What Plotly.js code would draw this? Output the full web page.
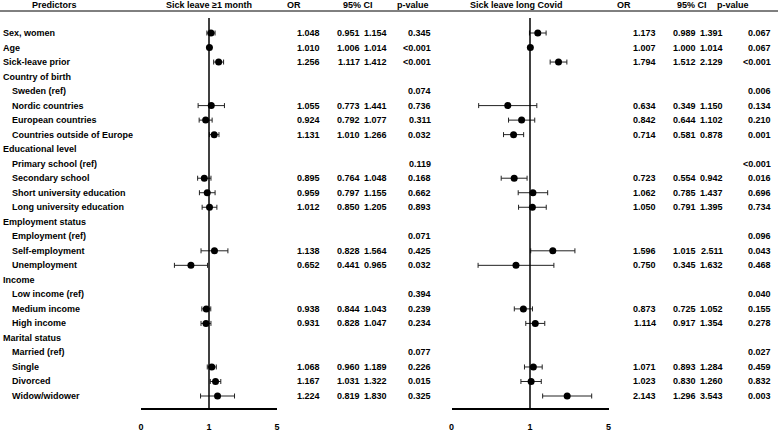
<!DOCTYPE html>
<html>
<head>
<meta charset="utf-8">
<script src="https://cdn.plot.ly/plotly-3.0.1.min.js"></script>
<style>html,body{margin:0;padding:0;background:#fff}#chart{width:778px;height:432px}</style>
</head>
<body>
<div id="chart"></div>
<script>
const labels = ["Sex, women","Age","Sick-leave prior","Country of birth","Sweden (ref)","Nordic countries","European countries","Countries outside of Europe","Educational level","Primary school (ref)","Secondary school","Short university education","Long university education","Employment status","Employment (ref)","Self-employment","Unemployment","Income","Low income (ref)","Medium income","High income","Marital status","Married (ref)","Single","Divorced","Widow/widower"];
const indent = [0,0,0,0,1,1,1,1,0,1,1,1,1,0,1,1,1,0,1,1,1,0,1,1,1,1];

const or1 = [1.048,1.010,1.256,null,null,1.055,0.924,1.131,null,null,0.895,0.959,1.012,null,null,1.138,0.652,null,null,0.938,0.931,null,null,1.068,1.167,1.224];
const lo1 = [0.951,1.006,1.117,null,null,0.773,0.792,1.010,null,null,0.764,0.797,0.850,null,null,0.828,0.441,null,null,0.844,0.828,null,null,0.960,1.031,0.819];
const hi1 = [1.154,1.014,1.412,null,null,1.441,1.077,1.266,null,null,1.048,1.155,1.205,null,null,1.564,0.965,null,null,1.043,1.047,null,null,1.189,1.322,1.830];
const p1 = ["0.345","<0.001","<0.001","","0.074","0.736","0.311","0.032","","0.119","0.168","0.662","0.893","","0.071","0.425","0.032","","0.394","0.239","0.234","","0.077","0.226","0.015","0.325"];

const or2 = [1.173,1.007,1.794,null,null,0.634,0.842,0.714,null,null,0.723,1.062,1.050,null,null,1.596,0.750,null,null,0.873,1.114,null,null,1.071,1.023,2.143];
const lo2 = [0.989,1.000,1.512,null,null,0.349,0.644,0.581,null,null,0.554,0.785,0.791,null,null,1.015,0.345,null,null,0.725,0.917,null,null,0.893,0.830,1.296];
const hi2 = [1.391,1.014,2.129,null,null,1.150,1.102,0.878,null,null,0.942,1.437,1.395,null,null,2.511,1.632,null,null,1.052,1.354,null,null,1.284,1.260,3.543];
const p2 = ["0.067","0.067","<0.001","","0.006","0.134","0.210","0.001","","<0.001","0.016","0.696","0.734","","0.096","0.043","0.468","","0.040","0.155","0.278","","0.027","0.459","0.832","0.003"];

const headers = ["Predictors","Sick leave \u22651 month","OR","95% CI","p-value","Sick leave long Covid","OR","95% CI","p-value"];
const axisTickVals = [0.2, 1, 5];
const axisTickText = ["0","1","5"];

const W = 778, H = 432;
const FONT = {family: "Liberation Sans, Arial, sans-serif", size: 9, color: "#000", weight: "bold"};
const rows = labels.map((_, i) => i);
const fmt = v => v == null ? "" : v.toFixed(3);

function forestTrace(orv, lo, hi, xa) {
  return {
    type: "scatter", mode: "markers", x: orv, y: rows, xaxis: xa, yaxis: "y",
    marker: {color: "#000", size: 7},
    error_x: {type: "data", symmetric: false,
      array: orv.map((v, i) => v == null ? null : hi[i] - v),
      arrayminus: orv.map((v, i) => v == null ? null : v - lo[i]),
      color: "#222", thickness: 1, width: 2.5},
    hoverinfo: "skip", showlegend: false
  };
}

const ann = [];
function txt(x, y, text, anchor, yref) {
  ann.push({x: x / W, y: y, xref: "paper", yref: yref || "y", text: text, showarrow: false,
    xanchor: anchor, yanchor: "middle", font: FONT, borderpad: 0});
}
labels.forEach((l, i) => txt(indent[i] ? 11 : 2, i, l, "left"));
const cols = [
  [or1.map(fmt), 321], [lo1.map(fmt), 361], [hi1.map(fmt), 388], [p1, 432],
  [or2.map(fmt), 657], [lo2.map(fmt), 697], [hi2.map(fmt), 724], [p2, 772]
];
cols.forEach(([vals, xr]) => vals.forEach((v, i) => { if (v) txt(xr, i, v, "right"); }));
const hdrX = [54, 209, 294, 358, 413, 516, 624, 692, 733];
headers.forEach((h, k) => txt(hdrX[k], (H - 5) / H, h, "center", "paper"));

const axisCommon = {type: "log", range: [Math.log10(0.2), Math.log10(5)],
  tickvals: axisTickVals, ticktext: axisTickText, tickfont: FONT,
  showline: true, linecolor: "#000", linewidth: 1.5, showgrid: false, zeroline: false,
  ticks: "", ticklabelstandoff: 10, anchor: "y", fixedrange: true};

const layout = {
  width: W, height: H, margin: {l: 0, r: 0, t: 0, b: 0},
  paper_bgcolor: "#fff", plot_bgcolor: "#fff",
  xaxis: Object.assign({}, axisCommon, {domain: [141 / W, 277 / W]}),
  xaxis2: Object.assign({}, axisCommon, {domain: [451.5 / W, 608.5 / W]}),
  yaxis: {domain: [24 / H, 1], range: [25.826, -2.273], visible: false, fixedrange: true},
  annotations: ann,
  shapes: [
    {type: "line", xref: "paper", yref: "paper", x0: 0, x1: 1, y0: (H - 11) / H, y1: (H - 11) / H, line: {color: "#000", width: 1}},
    {type: "line", xref: "x", yref: "paper", x0: 1, x1: 1, y0: 24 / H, y1: (H - 18) / H, line: {color: "#000", width: 1.5}},
    {type: "line", xref: "x2", yref: "paper", x0: 1, x1: 1, y0: 24 / H, y1: (H - 18) / H, line: {color: "#000", width: 1.5}}
  ]
};

Plotly.newPlot("chart", [forestTrace(or1, lo1, hi1, "x"), forestTrace(or2, lo2, hi2, "x2")], layout, {displayModeBar: false, staticPlot: true});
</script>
</body>
</html>
